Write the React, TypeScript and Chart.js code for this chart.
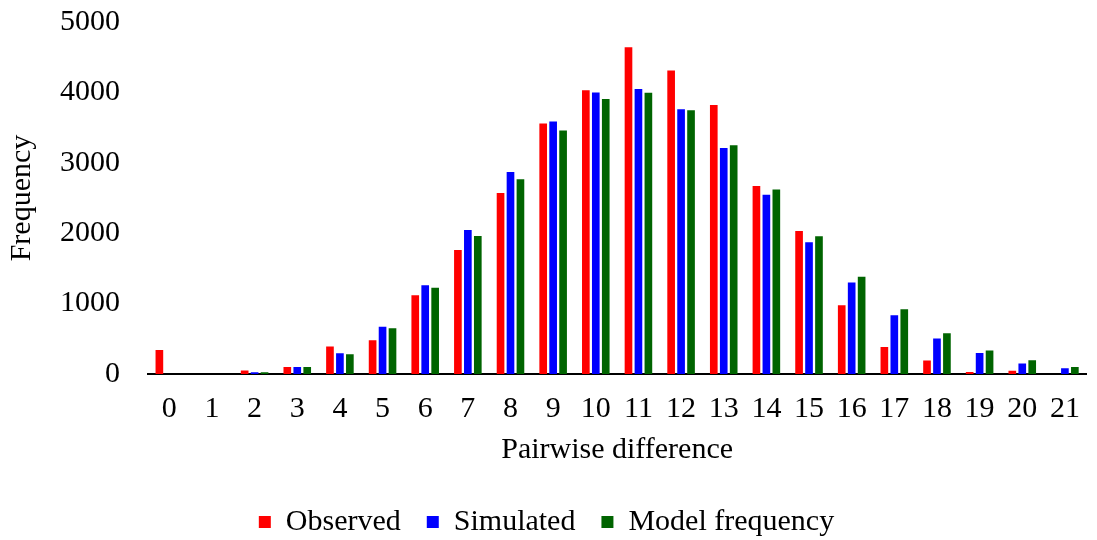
import React, { useEffect, useRef } from 'react';
import { Chart, registerables } from 'chart.js';

Chart.register(...registerables);

const categories = ['0', '1', '2', '3', '4', '5', '6', '7', '8', '9', '10', '11', '12', '13', '14', '15', '16', '17', '18', '19', '20', '21'];
const observed = [340, 0, 50, 100, 390, 480, 1120, 1760, 2570, 3560, 4030, 4640, 4310, 3820, 2670, 2030, 975, 385, 190, 28, 47, 0];
const simulated = [0, 0, 25, 100, 295, 670, 1260, 2045, 2870, 3585, 4000, 4050, 3760, 3210, 2545, 1870, 1300, 835, 505, 300, 150, 80];
const modelFrequency = [0, 0, 25, 100, 280, 650, 1225, 1960, 2765, 3460, 3905, 3995, 3745, 3250, 2620, 1955, 1380, 920, 580, 335, 195, 100];
const yTicks = [0, 1000, 2000, 3000, 4000, 5000];

const FONT = 'Liberation Serif, "Times New Roman", serif';

export default function App() {
  const ref = useRef<HTMLCanvasElement>(null);

  useEffect(() => {
    if (!ref.current) return;
    const chart = new Chart(ref.current, {
      type: 'bar',
      data: {
        labels: categories,
        datasets: [
          { label: 'Observed', data: observed, backgroundColor: '#ff0000', borderWidth: 0 },
          { label: 'Simulated', data: simulated, backgroundColor: '#0000ff', borderWidth: 0 },
          { label: 'Model frequency', data: modelFrequency, backgroundColor: '#006400', borderWidth: 0 },
        ],
      },
      options: {
        animation: false,
        responsive: true,
        maintainAspectRatio: false,
        layout: { padding: { left: 0, right: 4, top: 0, bottom: 0 } },
        datasets: { bar: { categoryPercentage: 0.7, barPercentage: 0.77 } },
        plugins: {
          tooltip: { enabled: false },
          legend: {
            position: 'bottom',
            labels: {
              font: { family: FONT, size: 30 },
              color: '#000',
              boxWidth: 12,
              boxHeight: 12,
              padding: 26,
            },
          },
        },
        scales: {
          x: {
            afterFit: (scale: any) => {
              scale.height = 107;
            },
            grid: { display: false, drawTicks: false },
            border: { display: true, color: '#000', width: 2 },
            ticks: {
              font: { family: FONT, size: 30 },
              color: '#000',
              padding: 17,
              maxRotation: 0,
              minRotation: 0,
              autoSkip: false,
            },
            title: {
              display: true,
              text: 'Pairwise difference',
              font: { family: FONT, size: 30 },
              color: '#000',
              padding: { top: 5, bottom: 13 },
            },
          },
          y: {
            min: 0,
            max: 5000,
            afterBuildTicks: (scale: any) => {
              scale.ticks = yTicks.map((v) => ({ value: v }));
            },
            afterFit: (scale: any) => {
              scale.width = 148;
              scale.paddingTop = 22;
              scale.paddingBottom = 0;
            },
            grid: { display: false, drawTicks: false },
            border: { display: false },
            ticks: {
              font: { family: FONT, size: 30 },
              color: '#000',
              padding: 28,
              callback: (v: any) => String(v),
            },
            title: {
              display: true,
              text: 'Frequency',
              font: { family: FONT, size: 30 },
              color: '#000',
              padding: { top: 4, bottom: 10 },
            },
          },
        },
      },
    });
    return () => chart.destroy();
  }, []);

  return (
    <div style={{ position: 'fixed', left: 0, top: 0, width: 1097, height: 540, overflow: 'hidden', background: '#fff' }}>
      <div style={{ position: 'relative', width: 1097, height: 547 }}>
        <canvas ref={ref} />
      </div>
    </div>
  );
}
